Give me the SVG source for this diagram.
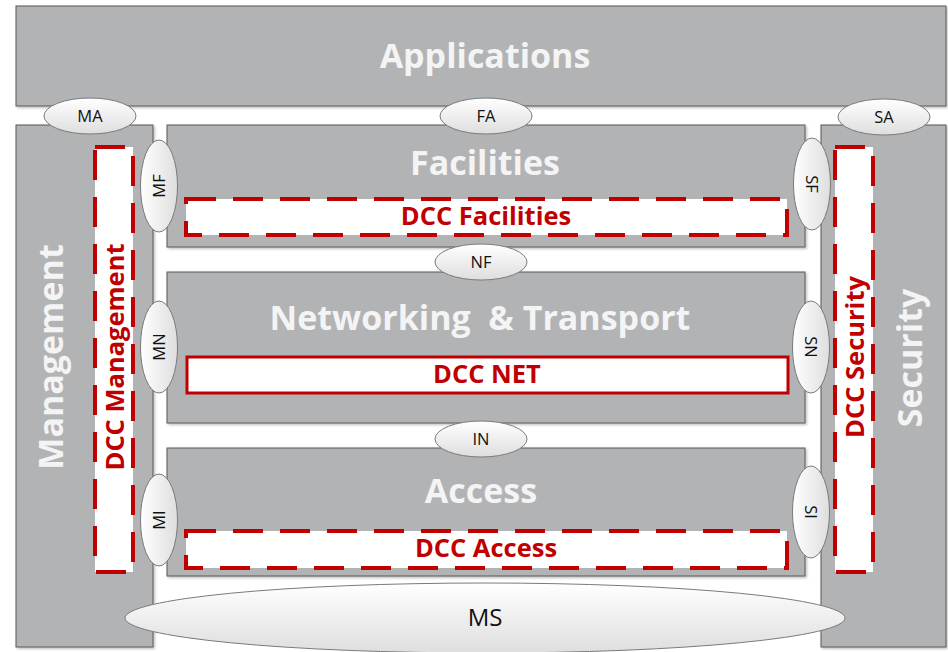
<svg xmlns="http://www.w3.org/2000/svg" width="948" height="652" viewBox="0 0 948 652">
  <defs>
    <linearGradient id="eg" x1="0" y1="0" x2="0" y2="1">
      <stop offset="0" stop-color="#ffffff"/>
      <stop offset="1" stop-color="#dedede"/>
    </linearGradient>
    <linearGradient id="egv" x1="0" y1="0" x2="1" y2="0">
      <stop offset="0" stop-color="#ffffff"/>
      <stop offset="1" stop-color="#dedede"/>
    </linearGradient>
    <filter id="sh" x="-5%" y="-5%" width="110%" height="110%">
      <feDropShadow dx="1.5" dy="1.5" stdDeviation="1.2" flood-color="#000" flood-opacity="0.25"/>
    </filter>
  </defs>
  <style>
    .box { fill: #b2b3b5; stroke: #595959; stroke-width: 1; filter: url(#sh); }
    .dcc { fill: #ffffff; stroke: #c00000; stroke-width: 4; stroke-dasharray: 30 17; }
    .dccs { fill: #ffffff; stroke: #c00000; stroke-width: 3; }
    .ell { fill: url(#eg); stroke: #7a7a7a; stroke-width: 1; }
    .ellv { fill: url(#egv); stroke: #7a7a7a; stroke-width: 1; }
    .big { font-family: "Open Sans", "Liberation Sans", sans-serif; font-weight: bold; font-size: 34px; fill: #f4f4f4; text-anchor: middle; }
    .red { font-family: "Open Sans", "Liberation Sans", sans-serif; font-weight: bold; font-size: 25.5px; fill: #c00000; text-anchor: middle; }
    .lbl { font-family: "Open Sans", "Liberation Sans", sans-serif; font-size: 16.5px; fill: #111111; text-anchor: middle; }
  </style>

  <g id="applications">
    <rect class="box" x="16" y="6" width="930" height="100"/>
    <text class="big" x="485" y="68">Applications</text>
  </g>

  <g id="management">
    <rect class="box" x="16" y="125" width="137" height="522"/>
    <text class="big" transform="translate(63,357) rotate(-90)">Management</text>
  </g>

  <g id="security">
    <rect class="box" x="821" y="125" width="125" height="522"/>
    <text class="big" transform="translate(922,358) rotate(-90)">Security</text>
  </g>

  <g id="facilities">
    <rect class="box" x="167" y="125" width="638" height="122"/>
    <text class="big" x="485" y="175">Facilities</text>
  </g>

  <g id="networking">
    <rect class="box" x="167" y="272" width="638" height="151"/>
    <text class="big" x="480" y="330" xml:space="preserve">Networking  &amp; Transport</text>
  </g>

  <g id="access">
    <rect class="box" x="167" y="448" width="638" height="128"/>
    <text class="big" x="481" y="503">Access</text>
  </g>

  <g id="dcc-management">
    <rect class="dcc" x="95" y="147" width="38" height="425"/>
    <text class="red" transform="translate(124,357) rotate(-90)">DCC Management</text>
  </g>

  <g id="dcc-security">
    <rect class="dcc" x="835" y="147" width="38" height="425"/>
    <text class="red" transform="translate(864,357) rotate(-90)">DCC Security</text>
  </g>

  <g id="dcc-facilities">
    <rect class="dcc" x="186" y="199" width="601" height="36"/>
    <text class="red" x="486" y="225">DCC Facilities</text>
  </g>

  <g id="dcc-net">
    <rect class="dccs" x="187" y="357" width="601" height="36"/>
    <text class="red" x="487" y="383">DCC NET</text>
  </g>

  <g id="dcc-access">
    <rect class="dcc" x="186" y="531" width="601" height="37"/>
    <text class="red" x="486" y="557">DCC Access</text>
  </g>

  <g id="ma">
    <ellipse class="ell" cx="90" cy="116" rx="46" ry="18"/>
    <text class="lbl" x="90" y="122">MA</text>
  </g>
  <g id="fa">
    <ellipse class="ell" cx="486" cy="116" rx="46" ry="18"/>
    <text class="lbl" x="486" y="122">FA</text>
  </g>
  <g id="sa">
    <ellipse class="ell" cx="884" cy="117" rx="46" ry="18"/>
    <text class="lbl" x="884" y="123">SA</text>
  </g>
  <g id="nf">
    <ellipse class="ell" cx="481" cy="262" rx="46" ry="18"/>
    <text class="lbl" x="481" y="268">NF</text>
  </g>
  <g id="in">
    <ellipse class="ell" cx="481" cy="439" rx="46" ry="18"/>
    <text class="lbl" x="481" y="445">IN</text>
  </g>
  <g id="mf">
    <ellipse class="ellv" cx="159" cy="186" rx="18.5" ry="46"/>
    <text class="lbl" transform="translate(165,186) rotate(-90)">MF</text>
  </g>
  <g id="mn">
    <ellipse class="ellv" cx="159" cy="347" rx="18.5" ry="46"/>
    <text class="lbl" transform="translate(165,347) rotate(-90)">MN</text>
  </g>
  <g id="mi">
    <ellipse class="ellv" cx="159" cy="520" rx="18.5" ry="46"/>
    <text class="lbl" transform="translate(165,520) rotate(-90)">MI</text>
  </g>
  <g id="sf">
    <ellipse class="ellv" cx="812" cy="184" rx="18.5" ry="46"/>
    <text class="lbl" transform="translate(806,184) rotate(90)">SF</text>
  </g>
  <g id="sn">
    <ellipse class="ellv" cx="811" cy="347" rx="18.5" ry="46"/>
    <text class="lbl" transform="translate(805,347) rotate(90)">SN</text>
  </g>
  <g id="si">
    <ellipse class="ellv" cx="811" cy="512" rx="18.5" ry="46"/>
    <text class="lbl" transform="translate(805,512) rotate(90)">SI</text>
  </g>
  <g id="ms">
    <ellipse class="ell" cx="485" cy="618" rx="360" ry="35"/>
    <text class="lbl" x="485" y="626" style="font-size:24px">MS</text>
  </g>

  <g id="connectors"></g>
</svg>
